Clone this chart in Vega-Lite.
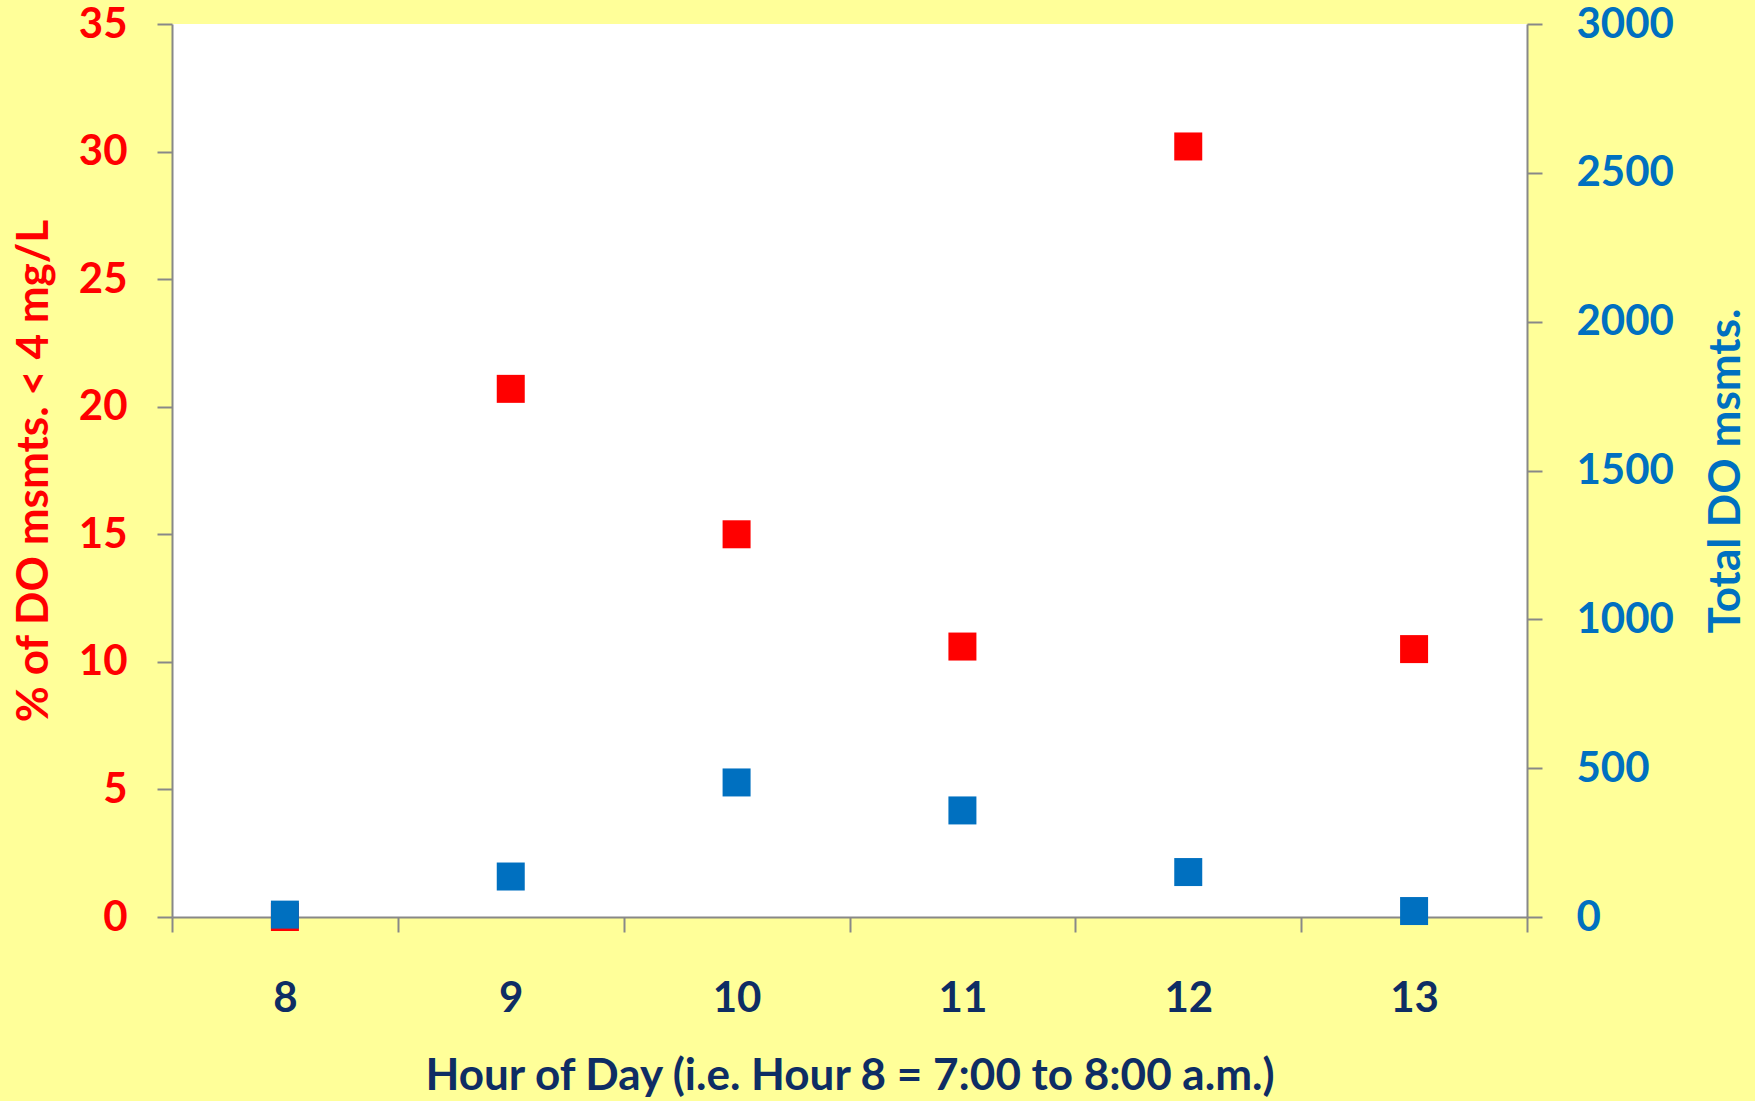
{
  "$schema": "https://vega.github.io/schema/vega-lite/v6.json",
  "autosize": "none",
  "width": 1355,
  "height": 893,
  "padding": {"left": 172, "top": 24, "right": 228, "bottom": 184},
  "background": "#FFFF99",
  "config": {
    "view": {"fill": "white", "stroke": null},
    "font": "Lato",
    "axis": {
      "grid": false,
      "domainColor": "#888888",
      "domainWidth": 2,
      "tickColor": "#888888",
      "tickWidth": 2,
      "tickSize": 15,
      "labelFont": "Lato",
      "labelFontWeight": "bold",
      "labelFontSize": 42,
      "titleFont": "Lato",
      "titleFontWeight": "bold",
      "titleFontSize": 44
    }
  },
  "data": {
    "values": [
      {"hour": 8, "pct": 0, "total": 8},
      {"hour": 9, "pct": 20.7, "total": 136},
      {"hour": 10, "pct": 15.0, "total": 452},
      {"hour": 11, "pct": 10.6, "total": 358},
      {"hour": 12, "pct": 30.2, "total": 151},
      {"hour": 13, "pct": 10.5, "total": 20}
    ]
  },
  "encoding": {
    "x": {
      "field": "hour",
      "type": "ordinal",
      "scale": {"paddingInner": 0, "paddingOuter": 0},
      "axis": {
        "title": "Hour of Day (i.e. Hour 8 = 7:00 to 8:00 a.m.)",
        "titleColor": "#0E2D64",
        "titleFontSize": 44,
        "titlePadding": 35,
        "labelColor": "#0E2D64",
        "labelAngle": 0,
        "labelPadding": 46,
        "tickBand": "extent"
      }
    }
  },
  "layer": [
    {
      "mark": {"type": "point", "shape": "square", "filled": true, "opacity": 1, "size": 784, "color": "#FF0000"},
      "encoding": {
        "y": {
          "field": "pct",
          "type": "quantitative",
          "scale": {"domain": [0, 35], "nice": false, "zero": true},
          "axis": {
            "orient": "left",
            "title": "% of DO msmts. < 4 mg/L",
            "titleColor": "#FF0000",
            "labelColor": "#FF0000",
            "values": [0, 5, 10, 15, 20, 25, 30, 35],
            "labelPadding": 30,
            "titlePadding": 22
          }
        }
      }
    },
    {
      "mark": {"type": "point", "shape": "square", "filled": true, "opacity": 1, "size": 784, "color": "#0070C0"},
      "encoding": {
        "y": {
          "field": "total",
          "type": "quantitative",
          "scale": {"domain": [0, 3000], "nice": false, "zero": true},
          "axis": {
            "orient": "right",
            "title": "Total DO msmts.",
            "titleAngle": 270,
            "titleColor": "#0070C0",
            "labelColor": "#0070C0",
            "format": "d",
            "values": [0, 500, 1000, 1500, 2000, 2500, 3000],
            "labelPadding": 34,
            "titlePadding": 75
          }
        }
      }
    }
  ],
  "resolve": {"scale": {"y": "independent"}}
}
